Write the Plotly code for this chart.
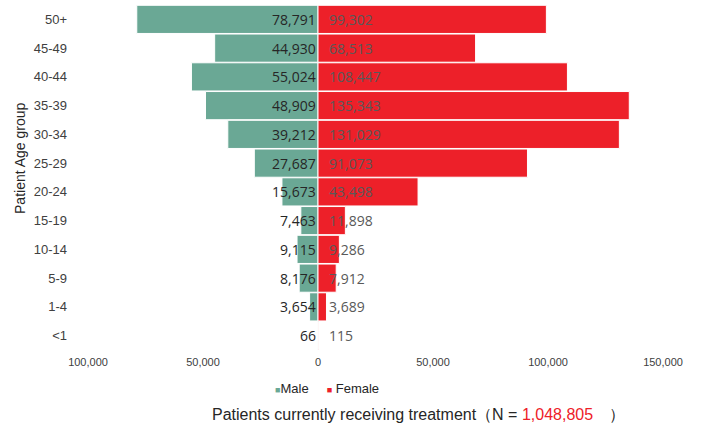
import plotly.graph_objects as go

# Age groups, top to bottom
age_groups = ["50+", "45-49", "40-44", "35-39", "30-34", "25-29",
              "20-24", "15-19", "10-14", "5-9", "1-4", "<1"]
male = [78791, 44930, 55024, 48909, 39212, 27687,
        15673, 7463, 9115, 8176, 3654, 66]
female = [99302, 68513, 108447, 135343, 131029, 91073,
          43498, 11898, 9286, 7912, 3689, 115]
x_ticks = [-100000, -50000, 0, 50000, 100000, 150000]
x_tick_text = ["100,000", "50,000", "0", "50,000", "100,000", "150,000"]
legend_names = ["Male", " Female"]
total_n = "1,048,805"

MALE_COLOR = "#6aa895"
FEMALE_COLOR = "#ed2029"
legend_colors = [MALE_COLOR, FEMALE_COLOR]

fig = go.Figure()

# Male bars go left (negative)
fig.add_trace(
    go.Bar(
        y=age_groups,
        x=[-v for v in male],
        orientation="h",
        marker=dict(color=MALE_COLOR, line=dict(color="white", width=1)),
        name="Male",
        showlegend=False,
        hoverinfo="skip",
    )
)
fig.add_trace(
    go.Bar(
        y=age_groups,
        x=female,
        orientation="h",
        marker=dict(color=FEMALE_COLOR, line=dict(color="white", width=1)),
        name="Female",
        showlegend=False,
        hoverinfo="skip",
    )
)

# Value labels next to the zero line
for g, m, f in zip(age_groups, male, female):
    fig.add_annotation(
        x=0, y=g, text="{:,}".format(m), showarrow=False,
        xanchor="right", xshift=0,
        font=dict(family="Open Sans", size=14, color="#262626"),
    )
    fig.add_annotation(
        x=0, y=g, text="{:,}".format(f), showarrow=False,
        xanchor="left", xshift=9,
        font=dict(family="Open Sans", size=14, color="#595959"),
    )

# Legend drawn as a text line with small coloured squares
legend_text = "     ".join(
    "<span style='color:{};font-size:9px'>■</span>{}".format(c, n)
    for n, c in zip(legend_names, legend_colors)
)
fig.add_annotation(
    x=0.415, y=-0.113, xref="paper", yref="paper", text=legend_text,
    showarrow=False, xanchor="center", yanchor="middle",
    font=dict(family="Liberation Sans", size=13, color="#262626"),
)

# Axis title and footer
fig.add_annotation(
    x=-0.118, y=0.557, xref="paper", yref="paper", text="Patient Age group",
    textangle=-90, showarrow=False, xanchor="center", yanchor="middle",
    font=dict(family="Liberation Sans", size=14, color="#262626"),
)
fig.add_annotation(
    x=0.575, y=-0.188, xref="paper", yref="paper",
    text="Patients currently receiving treatment（N = "
    "<span style='color:#ee2028'>{}</span>　）".format(total_n),
    showarrow=False, xanchor="center", yanchor="middle",
    font=dict(family="Liberation Sans", size=16, color="#262626"),
)

fig.update_layout(
    width=710,
    height=426,
    margin=dict(l=88, r=47, t=5, b=76),
    plot_bgcolor="white",
    paper_bgcolor="white",
    barmode="overlay",
    bargap=0.02,
    showlegend=False,
    xaxis=dict(
        range=[-100000, 150000],
        tickvals=x_ticks,
        ticktext=x_tick_text,
        showgrid=False,
        zeroline=True,
        zerolinecolor="#d9d9d9",
        zerolinewidth=1,
        showline=False,
        automargin=False,
        tickfont=dict(family="Liberation Sans", size=11, color="#404040"),
        ticklabelstandoff=4,
    ),
    yaxis=dict(
        autorange="reversed",
        showgrid=False,
        showline=False,
        automargin=False,
        tickfont=dict(family="Liberation Sans", size=13, color="#404040"),
        ticklabelstandoff=20,
    ),
)

# drop the default page margin so the figure sits at the window's corner
fig.write_html(
    "out.html",
    config={"displayModeBar": False},
    post_script="document.body.style.margin = '0';",
)
